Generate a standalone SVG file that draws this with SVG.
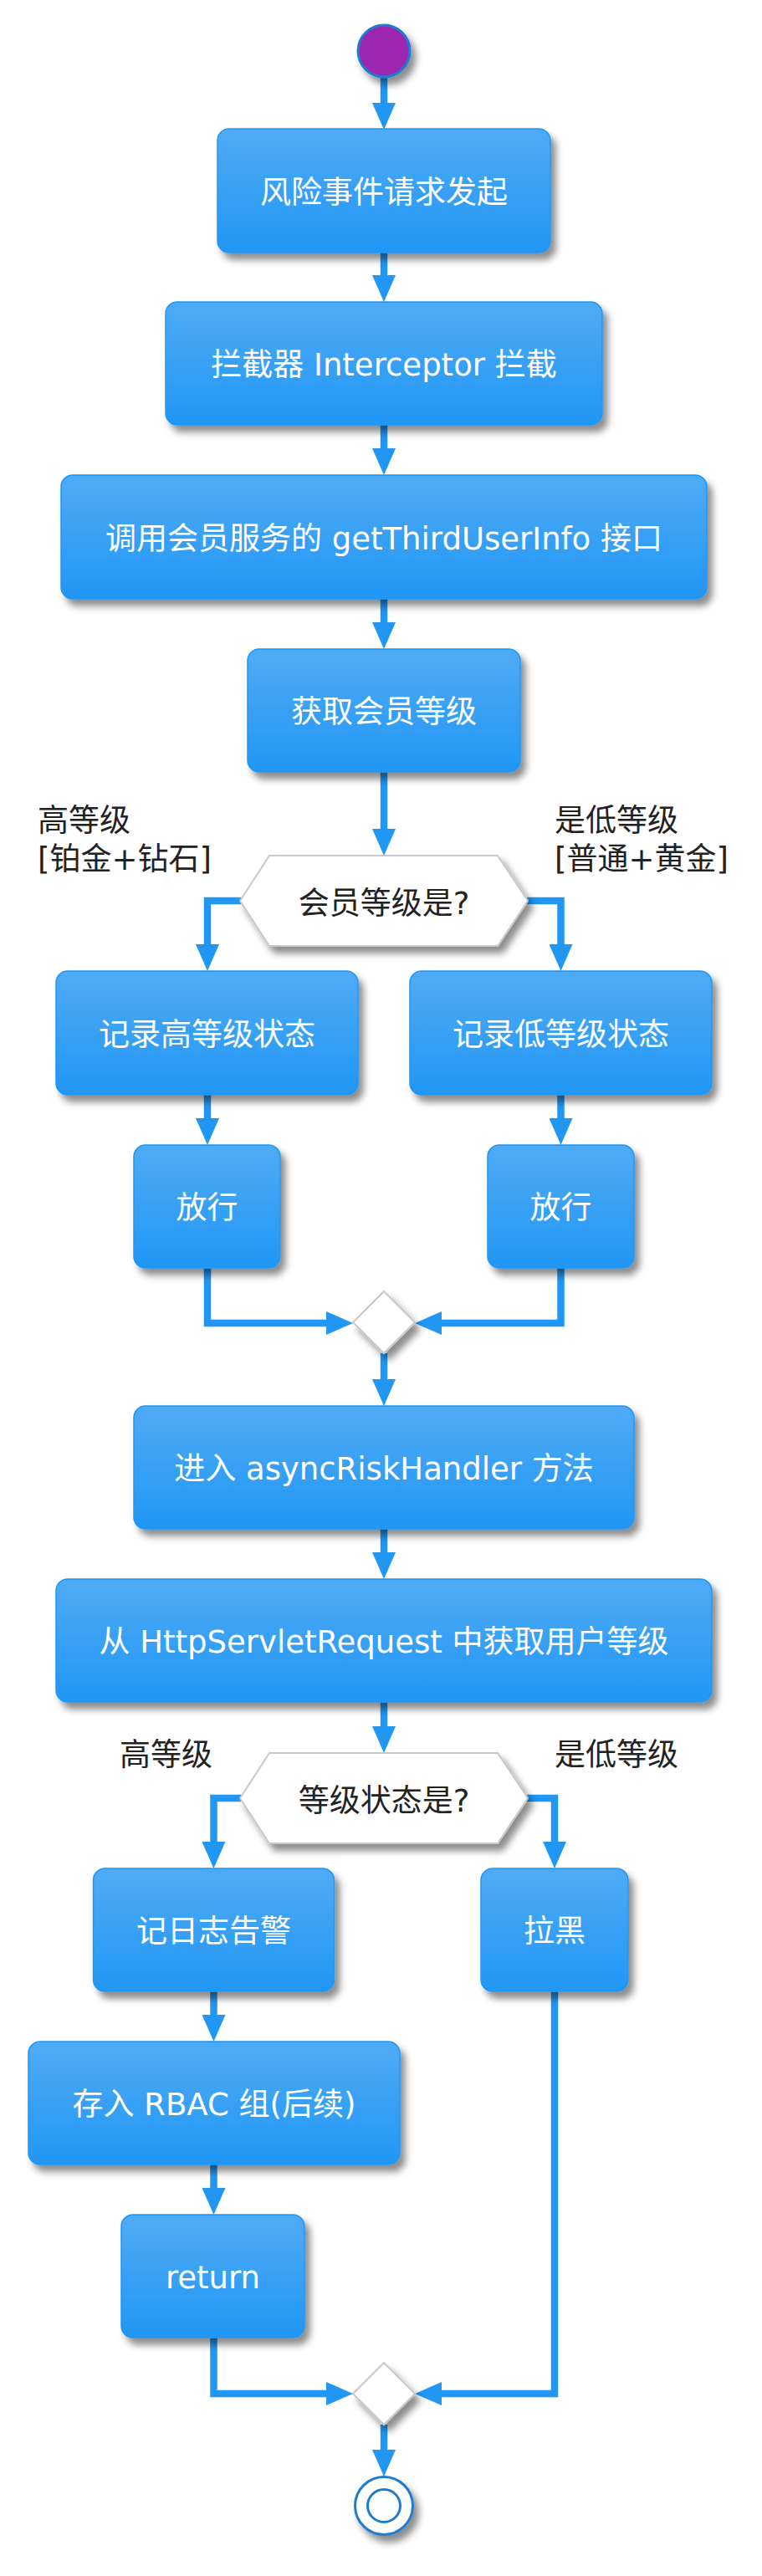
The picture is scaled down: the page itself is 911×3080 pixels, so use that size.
<svg xmlns="http://www.w3.org/2000/svg" width="911" height="3080" viewBox="0 0 911 3080">
<defs>
<linearGradient id="boxGrad" x1="0" y1="0" x2="0" y2="1">
<stop offset="0" stop-color="#4FABF6"/>
<stop offset="1" stop-color="#2196F3"/>
</linearGradient>
<filter id="sh" x="-20%" y="-20%" width="150%" height="160%">
<feDropShadow dx="6" dy="8" stdDeviation="4.5" flood-color="#000" flood-opacity="0.45"/>
</filter>
<marker id="ah" viewBox="0 0 32 28" refX="20" refY="14" markerWidth="32" markerHeight="28" markerUnits="userSpaceOnUse" orient="auto">
<path d="M0,0 L32,14 L0,28 z" fill="#2196F3"/>
</marker>
<style>
.box{fill:url(#boxGrad);stroke:#2196F3;stroke-width:1.5;filter:url(#sh)}
.bt{font-family:"DejaVu Sans","Noto Sans CJK SC",sans-serif;font-size:37px;fill:#FFFFFF;text-anchor:middle}
.dt{font-family:"DejaVu Sans","Noto Sans CJK SC",sans-serif;font-size:37px;fill:#222222;text-anchor:middle}
.lb{font-family:"DejaVu Sans","Noto Sans CJK SC",sans-serif;font-size:37px;fill:#222222}
.hex{fill:#FFFFFF;stroke:#C8C8C8;stroke-width:2;filter:url(#sh)}
.c{fill:none;stroke:#2196F3;stroke-width:8.5;stroke-linejoin:miter;marker-end:url(#ah)}
</style>
</defs>

<g id="connectors">
<path class="c" d="M459,93 L459,143"/>
<path class="c" d="M459,302 L459,349"/>
<path class="c" d="M459,508 L459,556"/>
<path class="c" d="M459,716 L459,764"/>
<path class="c" d="M459,923 L459,1011"/>
<path class="c" d="M288,1077 L248,1077 L248,1149"/>
<path class="c" d="M630,1077 L670.5,1077 L670.5,1149"/>
<path class="c" d="M248,1309 L248,1357"/>
<path class="c" d="M670.5,1309 L670.5,1357"/>
<path class="c" d="M248,1516 L248,1582 L410,1582"/>
<path class="c" d="M670.5,1516 L670.5,1582 L508,1582"/>
<path class="c" d="M459,1618 L459,1669"/>
<path class="c" d="M459,1828 L459,1876"/>
<path class="c" d="M459,2035 L459,2084"/>
<path class="c" d="M288,2150 L255.5,2150 L255.5,2222"/>
<path class="c" d="M630,2150 L663,2150 L663,2222"/>
<path class="c" d="M255.5,2381 L255.5,2429"/>
<path class="c" d="M255.5,2588 L255.5,2636"/>
<path class="c" d="M255.5,2795 L255.5,2862 L410,2862"/>
<path class="c" d="M663,2381 L663,2862 L508,2862"/>
<path class="c" d="M459,2899 L459,2949"/>
</g>

<g id="start">
<circle cx="459" cy="61" r="31" fill="#9C27B0" stroke="#1E7BD0" stroke-width="3" filter="url(#sh)"/>
</g>

<g id="n1">
<rect class="box" x="260" y="154" width="398" height="148" rx="14"/>
<text class="bt" x="459" y="243">风险事件请求发起</text>
</g>
<g id="n2">
<rect class="box" x="198" y="361" width="522" height="147" rx="14"/>
<text class="bt" x="459" y="449">拦截器 Interceptor 拦截</text>
</g>
<g id="n3">
<rect class="box" x="73" y="568" width="772" height="148" rx="14"/>
<text class="bt" x="459" y="657">调用会员服务的 getThirdUserInfo 接口</text>
</g>
<g id="n4">
<rect class="box" x="296" y="776" width="326" height="147" rx="14"/>
<text class="bt" x="459" y="864">获取会员等级</text>
</g>

<g id="d1">
<polygon class="hex" points="322,1023 595,1023 631,1077 595,1131 322,1131 287,1077"/>
<text class="dt" x="459" y="1093">会员等级是?</text>
</g>
<g id="d1-labels">
<text class="lb" x="45" y="994">高等级</text>
<text class="lb" x="45" y="1040">[铂金+钻石]</text>
<text class="lb" x="663" y="994">是低等级</text>
<text class="lb" x="663" y="1040">[普通+黄金]</text>
</g>

<g id="n5">
<rect class="box" x="67" y="1161" width="361" height="148" rx="14"/>
<text class="bt" x="247.5" y="1250">记录高等级状态</text>
</g>
<g id="n6">
<rect class="box" x="490" y="1161" width="361" height="148" rx="14"/>
<text class="bt" x="670.5" y="1250">记录低等级状态</text>
</g>
<g id="n7">
<rect class="box" x="160" y="1369" width="175" height="147" rx="14"/>
<text class="bt" x="247.5" y="1457">放行</text>
</g>
<g id="n8">
<rect class="box" x="583" y="1369" width="175" height="147" rx="14"/>
<text class="bt" x="670.5" y="1457">放行</text>
</g>

<g id="m1">
<polygon class="hex" points="459,1544 496,1581 459,1618 422,1581"/>
</g>

<g id="n9">
<rect class="box" x="160" y="1681" width="598" height="147" rx="14"/>
<text class="bt" x="459" y="1769">进入 asyncRiskHandler 方法</text>
</g>
<g id="n10">
<rect class="box" x="67" y="1888" width="784" height="147" rx="14"/>
<text class="bt" x="459" y="1976">从 HttpServletRequest 中获取用户等级</text>
</g>

<g id="d2">
<polygon class="hex" points="322,2096 595,2096 631,2150 595,2204 322,2204 287,2150"/>
<text class="dt" x="459" y="2166">等级状态是?</text>
</g>
<g id="d2-labels">
<text class="lb" x="143" y="2111">高等级</text>
<text class="lb" x="663" y="2111">是低等级</text>
</g>

<g id="n11">
<rect class="box" x="111.5" y="2234" width="288" height="147" rx="14"/>
<text class="bt" x="255.5" y="2322">记日志告警</text>
</g>
<g id="n12">
<rect class="box" x="575" y="2234" width="176" height="147" rx="14"/>
<text class="bt" x="663" y="2322">拉黑</text>
</g>
<g id="n13">
<rect class="box" x="34" y="2441" width="444" height="147" rx="14"/>
<text class="bt" x="256" y="2529">存入 RBAC 组(后续)</text>
</g>
<g id="n14">
<rect class="box" x="145" y="2648" width="219" height="147" rx="14"/>
<text class="bt" x="254.5" y="2736">return</text>
</g>

<g id="m2">
<polygon class="hex" points="459,2825 496,2862 459,2899 422,2862"/>
</g>

<g id="end">
<circle cx="459" cy="2996" r="34.5" fill="#FFFFFF" stroke="#1E7BD0" stroke-width="3" filter="url(#sh)"/>
<circle cx="459" cy="2996" r="19.5" fill="none" stroke="#1E7BD0" stroke-width="3"/>
</g>
</svg>
